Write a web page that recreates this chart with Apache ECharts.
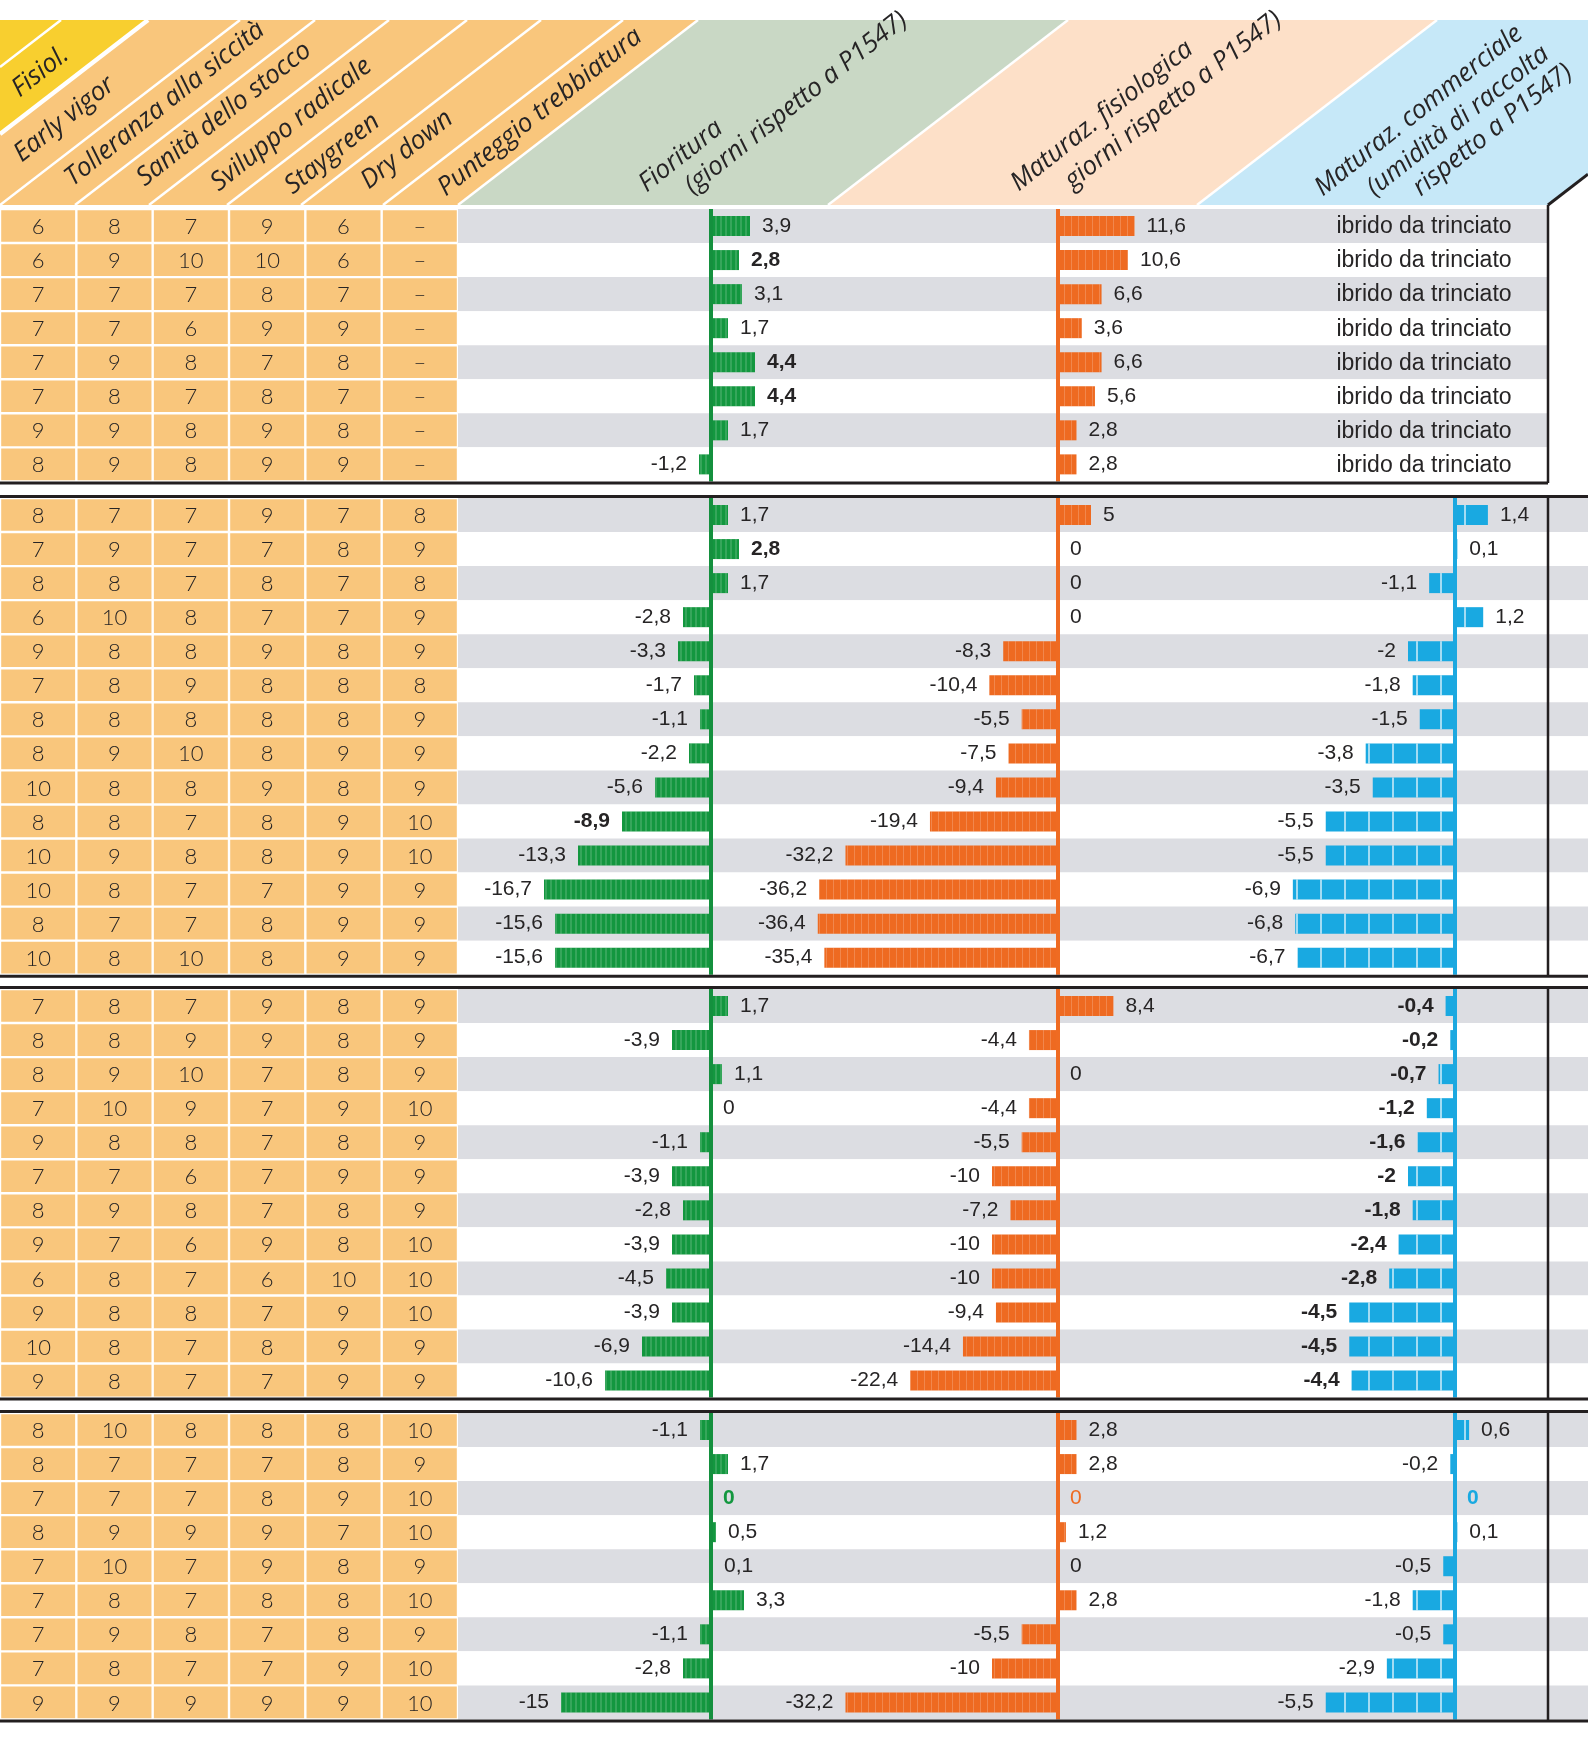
<!DOCTYPE html>
<html>
<head>
<meta charset="utf-8">
<title>Ibridi - confronto con P1547</title>
<script src="https://cdn.jsdelivr.net/npm/echarts@6.0.0/dist/echarts.min.js"></script>
<style>
  html, body { margin: 0; padding: 0; background: #fff; }
  #main { width: 1588px; height: 1753px; }
</style>
</head>
<body>
<div id="main"></div>
<script>
// header texts
var traitLabels = ['Fisiol.', 'Early vigor', 'Tolleranza alla siccità', 'Sanità dello stocco',
  'Sviluppo radicale', 'Staygreen', 'Dry down', 'Punteggio trebbiatura'];
var fioLabel = ['Fioritura', '(giorni rispetto a P1547)'];
var fisLabel = ['Maturaz. fisiologica', 'giorni rispetto a P1547)'];
var comLabel = ['Maturaz. commerciale', '(umidità di raccolta', 'rispetto a P1547)'];
var noteLabel = 'ibrido da trinciato';

// group 1
var scores1 = [
  [6, 8, 7, 9, 6, '–'],
  [6, 9, 10, 10, 6, '–'],
  [7, 7, 7, 8, 7, '–'],
  [7, 7, 6, 9, 9, '–'],
  [7, 9, 8, 7, 8, '–'],
  [7, 8, 7, 8, 7, '–'],
  [9, 9, 8, 9, 8, '–'],
  [8, 9, 8, 9, 9, '–']
];
var fioritura1 = [3.9, 2.8, 3.1, 1.7, 4.4, 4.4, 1.7, -1.2];
var fisiologica1 = [11.6, 10.6, 6.6, 3.6, 6.6, 5.6, 2.8, 2.8];
var commerciale1 = null; // ibrido da trinciato

// group 2
var scores2 = [
  [8, 7, 7, 9, 7, 8],
  [7, 9, 7, 7, 8, 9],
  [8, 8, 7, 8, 7, 8],
  [6, 10, 8, 7, 7, 9],
  [9, 8, 8, 9, 8, 9],
  [7, 8, 9, 8, 8, 8],
  [8, 8, 8, 8, 8, 9],
  [8, 9, 10, 8, 9, 9],
  [10, 8, 8, 9, 8, 9],
  [8, 8, 7, 8, 9, 10],
  [10, 9, 8, 8, 9, 10],
  [10, 8, 7, 7, 9, 9],
  [8, 7, 7, 8, 9, 9],
  [10, 8, 10, 8, 9, 9]
];
var fioritura2 = [1.7, 2.8, 1.7, -2.8, -3.3, -1.7, -1.1, -2.2, -5.6, -8.9, -13.3, -16.7, -15.6, -15.6];
var fisiologica2 = [5, 0, 0, 0, -8.3, -10.4, -5.5, -7.5, -9.4, -19.4, -32.2, -36.2, -36.4, -35.4];
var commerciale2 = [1.4, 0.1, -1.1, 1.2, -2, -1.8, -1.5, -3.8, -3.5, -5.5, -5.5, -6.9, -6.8, -6.7];

// group 3
var scores3 = [
  [7, 8, 7, 9, 8, 9],
  [8, 8, 9, 9, 8, 9],
  [8, 9, 10, 7, 8, 9],
  [7, 10, 9, 7, 9, 10],
  [9, 8, 8, 7, 8, 9],
  [7, 7, 6, 7, 9, 9],
  [8, 9, 8, 7, 8, 9],
  [9, 7, 6, 9, 8, 10],
  [6, 8, 7, 6, 10, 10],
  [9, 8, 8, 7, 9, 10],
  [10, 8, 7, 8, 9, 9],
  [9, 8, 7, 7, 9, 9]
];
var fioritura3 = [1.7, -3.9, 1.1, 0, -1.1, -3.9, -2.8, -3.9, -4.5, -3.9, -6.9, -10.6];
var fisiologica3 = [8.4, -4.4, 0, -4.4, -5.5, -10, -7.2, -10, -10, -9.4, -14.4, -22.4];
var commerciale3 = [-0.4, -0.2, -0.7, -1.2, -1.6, -2, -1.8, -2.4, -2.8, -4.5, -4.5, -4.4];

// group 4
var scores4 = [
  [8, 10, 8, 8, 8, 10],
  [8, 7, 7, 7, 8, 9],
  [7, 7, 7, 8, 9, 10],
  [8, 9, 9, 9, 7, 10],
  [7, 10, 7, 9, 8, 9],
  [7, 8, 7, 8, 8, 10],
  [7, 9, 8, 7, 8, 9],
  [7, 8, 7, 7, 9, 10],
  [9, 9, 9, 9, 9, 10]
];
var fioritura4 = [-1.1, 1.7, 0, 0.5, 0.1, 3.3, -1.1, -2.8, -15];
var fisiologica4 = [2.8, 2.8, 0, 1.2, 0, 2.8, -5.5, -10, -32.2];
var commerciale4 = [0.6, -0.2, 0, 0.1, -0.5, -1.8, -0.5, -2.9, -5.5];

// labels printed in bold: group index -> metric index -> rows
var boldLabels = {0: {0: [1, 4, 5]}, 1: {0: [1, 9]}, 2: {2: 'all'}};

var groups = [
  {scores: scores1, vals: [fioritura1, fisiologica1, commerciale1]},
  {scores: scores2, vals: [fioritura2, fisiologica2, commerciale2]},
  {scores: scores3, vals: [fioritura3, fisiologica3, commerciale3]},
  {scores: scores4, vals: [fioritura4, fisiologica4, commerciale4]}
];

// layout
var W = 1588;
var TABLE_W = 458;
var ROW_H = 34.05;
var SEC_TOP = [209, 498, 989, 1413];
var FRAME_X = 1548;
var ZERO_X = [711, 1058, 1455];
var PX_UNIT = [10, 6.6, 23.5];
var NOTE_X = 1424;
var H_TOP = 20, H_BOT = 205, SLANT = 240;
var ANG = 38.5 * Math.PI / 180;
var HEAD_DX = 7;

var COLORS = ['#13973f', '#ee6a21', '#19a9e1'];
var LINE_COLORS = ['#14903e', '#ef6b22', '#1ca8e0'];
var CELL = '#f9c67c';
var INK = '#262425';
var LABEL_FONT = '"Liberation Sans", Arial, sans-serif';
var HEAD_FONT = '"Open Sans", "Noto Sans", sans-serif';
var DECALS = [
  {symbol: 'rect', symbolSize: 1, color: 'rgba(255,255,255,0.15)', dashArrayX: [2, 3], dashArrayY: [20, 0], rotation: 0},
  {symbol: 'rect', symbolSize: 1, color: 'rgba(255,255,255,0.2)', dashArrayX: [1, 5.6], dashArrayY: [20, 0], rotation: 0},
  {symbol: 'rect', symbolSize: 1, color: 'rgba(255,255,255,0.6)', dashArrayX: [1.5, 22], dashArrayY: [20, 0], rotation: 0}
];

// header font size fitted to the measured length of one label
var ctx = document.createElement('canvas').getContext('2d');
ctx.font = 'italic 100px ' + HEAD_FONT;
var headSize = Math.round(100 * 253 / ctx.measureText('Punteggio trebbiatura').width * 10) / 10;

var grid = [], xAxis = [], yAxis = [], series = [], graphics = [];

groups.forEach(function (g, s) {
  var n = g.scores.length, top = SEC_TOP[s], h = n * ROW_H;
  var right = s === 0 ? FRAME_X : W;
  var rows = g.scores.map(function (r, i) { return String(i); });

  // score cells
  var gi = grid.length;
  grid.push({left: 0, top: top, width: TABLE_W, height: h, outerBoundsMode: 'none'});
  xAxis.push({type: 'category', gridIndex: gi, data: ['0', '1', '2', '3', '4', '5'], show: false});
  yAxis.push({type: 'category', gridIndex: gi, data: rows, inverse: true, show: false});
  var cells = [];
  g.scores.forEach(function (r, i) { r.forEach(function (v, j) { cells.push([j, i]); }); });
  series.push({
    type: 'custom', xAxisIndex: xAxis.length - 1, yAxisIndex: yAxis.length - 1,
    data: cells, silent: true,
    renderItem: function (params, api) {
      var j = api.value(0), i = api.value(1);
      var c = api.coord([j, i]), sz = api.size([1, 1]);
      return {type: 'group', children: [
        {type: 'rect', shape: {x: c[0] - sz[0] / 2 + 1.2, y: c[1] - sz[1] / 2 + 1.2, width: sz[0] - 2.4, height: sz[1] - 2.4},
          style: {fill: CELL}},
        {type: 'text', x: c[0], y: c[1] + 1,
          style: {text: String(g.scores[i][j]), font: '300 22px Lato, sans-serif', fill: INK,
            align: 'center', verticalAlign: 'middle', textAlign: 'center', textVerticalAlign: 'middle'}}
      ]};
    }
  });

  // bars
  var gc = grid.length;
  grid.push({left: TABLE_W, top: top, width: right - TABLE_W, height: h, outerBoundsMode: 'none'});
  var yc = yAxis.length;
  yAxis.push({
    type: 'category', gridIndex: gc, data: rows, inverse: true,
    axisLine: {show: false}, axisTick: {show: false}, axisLabel: {show: false},
    splitLine: {show: false},
    splitArea: {show: true, interval: 0, areaStyle: {color: ['#dcdde2', '#ffffff']}}
  });

  g.vals.forEach(function (vals, m) {
    var xi = xAxis.length;
    xAxis.push({
      type: 'value', gridIndex: gc, show: false,
      min: -(ZERO_X[m] - TABLE_W) / PX_UNIT[m],
      max: (right - ZERO_X[m]) / PX_UNIT[m]
    });
    if (!vals) {
      series.push({
        type: 'custom', xAxisIndex: xi, yAxisIndex: yc, silent: true,
        data: rows.map(function (r, i) { return [0, i]; }),
        renderItem: function (params, api) {
          var c = api.coord([0, api.value(1)]);
          return {type: 'text', x: NOTE_X, y: c[1] + 1,
            style: {text: noteLabel, font: '23px ' + LABEL_FONT, fill: INK,
              align: 'center', verticalAlign: 'middle', textAlign: 'center', textVerticalAlign: 'middle'}};
        }
      });
      return;
    }
    var bold = (boldLabels[s] || {})[m];
    series.push({
      type: 'bar', xAxisIndex: xi, yAxisIndex: yc,
      barWidth: 20, barGap: '-100%',
      data: vals.map(function (v, i) {
        var special = s === 3 && i === 2;
        var isBold = bold === 'all' || (bold && bold.indexOf(i) >= 0) || (special && m !== 1);
        return {value: v, label: {
          position: v < 0 ? 'left' : 'right',
          color: special ? COLORS[m] : INK,
          fontWeight: isBold ? 'bold' : 'normal'
        }};
      }),
      label: {
        show: true, distance: 12, fontSize: 21, fontFamily: LABEL_FONT,
        formatter: function (p) { return String(p.value).replace('.', ','); }
      },
      itemStyle: {color: COLORS[m], decal: DECALS[m]},
      emphasis: {disabled: true},
      markLine: {
        silent: true, symbol: ['none', 'none'], label: {show: false},
        lineStyle: {color: LINE_COLORS[m], width: 4, type: 'solid'},
        data: [{xAxis: 0}]
      }
    });
  });

  // black frame lines
  var bot = top + h;
  graphics.push(line(0, bot + 1.5, right, bot + 1.5, 3));
  if (s > 0) graphics.push(line(0, top - 1.5, W, top - 1.5, 3));
  graphics.push(line(FRAME_X, s === 0 ? H_BOT : top - 1.5, FRAME_X, bot + 1.5, 2.5));
});

function line(x1, y1, x2, y2, w, color) {
  return {type: 'line', z: 100, silent: true, shape: {x1: x1, y1: y1, x2: x2, y2: y2},
    style: {stroke: color || '#231f20', lineWidth: w}};
}
function poly(points, fill) {
  return {type: 'polygon', z: 1, silent: true, shape: {points: points}, style: {fill: fill}};
}
function slant(bx, w) {
  var t = (H_BOT - H_TOP) / SLANT;
  var x1 = bx, y1 = H_BOT;
  if (bx < 0) { x1 = 0; y1 = H_BOT + bx * t; }
  var el = line(x1, y1, bx + SLANT, H_TOP, w, '#ffffff');
  el.z = 2;
  return el;
}
function headText(str, x, y) {
  var d = headSize * 0.2;
  return {type: 'text', z: 3, silent: true,
    x: x + HEAD_DX + d * Math.sin(ANG), y: y + d * Math.cos(ANG), rotation: ANG,
    style: {text: str, font: 'italic ' + headSize + 'px ' + HEAD_FONT, fill: INK,
      align: 'left', verticalAlign: 'bottom', textAlign: 'left', textVerticalAlign: 'bottom'}};
}

// header bands
var k = (H_BOT - H_TOP) / SLANT;
graphics.push(poly([[0, H_BOT], [TABLE_W, H_BOT], [TABLE_W + SLANT, H_TOP], [0, H_TOP]], CELL));
graphics.push(poly([[0, H_TOP], [148, H_TOP], [0, H_TOP + 148 * k]], '#f8cf2f'));
graphics.push(poly([[458, H_BOT], [828, H_BOT], [828 + SLANT, H_TOP], [458 + SLANT, H_TOP]], '#c9d8c5'));
graphics.push(poly([[828, H_BOT], [1197, H_BOT], [1197 + SLANT, H_TOP], [828 + SLANT, H_TOP]], '#fde0c8'));
graphics.push(poly([[1197, H_BOT], [FRAME_X, H_BOT], [W, H_BOT - (W - FRAME_X) * k], [W, H_TOP], [1197 + SLANT, H_TOP]], '#c6e8f8'));
[-179, 0, 75, 149, 227, 301, 383, 458, 828, 1197].forEach(function (bx) { graphics.push(slant(bx, 2.5)); });
graphics.push(slant(-92, 4.5));
graphics.push(line(FRAME_X, H_BOT, W, H_BOT - (W - FRAME_X) * k, 3));

// header labels
var HEAD_POS = [[13, 98], [15, 163], [66, 187], [138, 187], [212, 192], [286, 195], [362, 190], [439, 197]];
traitLabels.forEach(function (t, i) { graphics.push(headText(t, HEAD_POS[i][0], HEAD_POS[i][1])); });
graphics.push(headText(fioLabel[0], 640, 193));
graphics.push(headText(fioLabel[1], 686, 195));
graphics.push(headText(fisLabel[0], 1012, 192));
graphics.push(headText(fisLabel[1], 1066, 190));
graphics.push(headText(comLabel[0], 1316, 197));
graphics.push(headText(comLabel[1], 1368, 197));
graphics.push(headText(comLabel[2], 1414, 197));

var chart = echarts.init(document.getElementById('main'), null, {renderer: 'canvas'});
chart.setOption({
  animation: false,
  backgroundColor: '#ffffff',
  grid: grid,
  xAxis: xAxis,
  yAxis: yAxis,
  series: series,
  graphic: {elements: graphics}
});
</script>
</body>
</html>
